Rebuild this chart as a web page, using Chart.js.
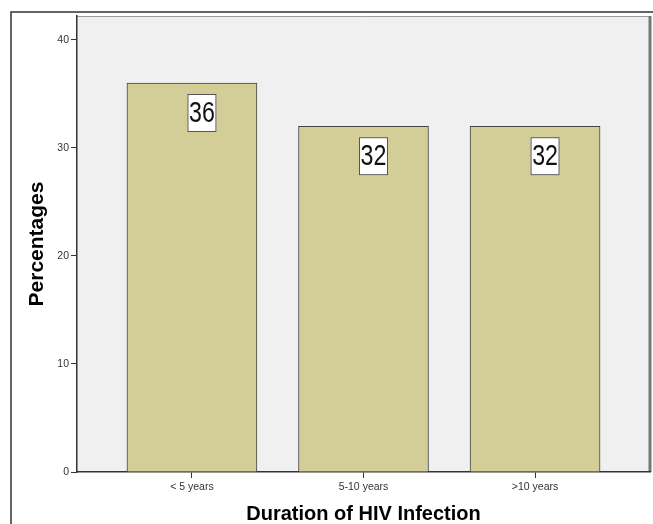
<!DOCTYPE html>
<html>
<head>
<meta charset="utf-8">
<script src="https://cdn.jsdelivr.net/npm/chart.js@4.4.1/dist/chart.umd.min.js"></script>
<style>
  body { margin: 0; background: #fff; }
</style>
</head>
<body>
<canvas id="barChart" width="653" height="524"></canvas>
<script>
const categories = ["< 5 years", "5-10 years", ">10 years"];
const positions = [1, 2, 3];
const percentages = [36, 32, 32];
const yTicks = [0, 10, 20, 30, 40];

// grey panel, frame and borders drawn before the scales
const panelPlugin = {
  id: "panel",
  beforeDraw(chart) {
    const ctx = chart.ctx;
    const a = chart.chartArea;
    ctx.save();
    ctx.fillStyle = "#fff";
    ctx.fillRect(0, 0, chart.width, chart.height);

    // outer frame
    ctx.strokeStyle = "#333";
    ctx.lineWidth = 1.5;
    ctx.strokeRect(11, 12, chart.width + 10, chart.height + 10);

    ctx.fillStyle = "#f0f0f0";
    ctx.fillRect(a.left, a.top, a.right - a.left, a.bottom - a.top);
    ctx.strokeStyle = "#999";
    ctx.lineWidth = 1;
    ctx.beginPath();
    ctx.moveTo(a.left, a.top + 0.5);
    ctx.lineTo(a.right, a.top + 0.5);
    ctx.stroke();
    ctx.strokeStyle = "#777";
    ctx.lineWidth = 3;
    ctx.beginPath();
    ctx.moveTo(a.right, a.top);
    ctx.lineTo(a.right, a.bottom);
    ctx.stroke();
    ctx.restore();
  }
};

// white boxed value labels inside the bars
const boxLabelPlugin = {
  id: "boxLabels",
  afterDatasetsDraw(chart) {
    const ctx = chart.ctx;
    const meta = chart.getDatasetMeta(0);
    meta.data.forEach((bar, i) => {
      const cx = bar.x + 10;
      const cy = bar.y + 30;
      const w = 29, h = 38;
      ctx.save();
      ctx.fillStyle = "#fff";
      ctx.fillRect(cx - w / 2, cy - h / 2, w, h);
      ctx.strokeStyle = "#555";
      ctx.lineWidth = 1;
      ctx.strokeRect(cx - w / 2 + 0.5, cy - h / 2 + 0.5, w - 1, h - 1);
      ctx.translate(cx, cy);
      ctx.scale(0.8, 1);
      ctx.fillStyle = "#111";
      ctx.font = "29px 'Liberation Sans', Arial, sans-serif";
      ctx.textAlign = "center";
      ctx.textBaseline = "middle";
      ctx.fillText(String(percentages[i]), 0, 1);
      ctx.restore();
    });
  }
};

const ctx = document.getElementById("barChart").getContext("2d");
new Chart(ctx, {
  type: "bar",
  data: {
    datasets: [{
      data: positions.map((p, i) => ({ x: p, y: percentages[i] })),
      backgroundColor: "#d3ce98",
      borderColor: "#444",
      borderWidth: 1,
      barThickness: 130
    }]
  },
  options: {
    responsive: false,
    animation: false,
    layout: { padding: { top: 16, right: 3, left: 0, bottom: 0 } },
    plugins: {
      legend: { display: false },
      tooltip: { enabled: false }
    },
    scales: {
      x: {
        type: "linear",
        offset: false,
        min: 0.33,
        max: 3.67,
        afterBuildTicks: scale => { scale.ticks = positions.map(v => ({ value: v })); },
        afterFit: scale => { scale.height = 52; },
        grid: { offset: false, drawOnChartArea: false, tickLength: 6, color: "#333", lineWidth: 1 },
        border: { display: true, color: "#333", width: 1.5 },
        ticks: {
          autoSkip: false,
          maxRotation: 0,
          padding: 3,
          color: "#333",
          font: { family: "'Liberation Sans', Arial, sans-serif", size: 10.5 },
          callback: value => categories[positions.indexOf(value)] || ""
        },
        title: {
          display: true,
          text: "Duration of HIV Infection",
          color: "#000",
          padding: { top: 0, bottom: 0 },
          font: { family: "'Liberation Sans', Arial, sans-serif", size: 20, weight: "bold", lineHeight: 1 }
        }
      },
      y: {
        min: 0,
        max: 42.2,
        afterBuildTicks: scale => { scale.ticks = yTicks.map(v => ({ value: v })); },
        afterFit: scale => { scale.width = 77; },
        grid: { drawOnChartArea: false, tickLength: 6, color: "#333", lineWidth: 1 },
        border: { display: true, color: "#333", width: 1.5 },
        ticks: {
          padding: 2,
          color: "#333",
          font: { family: "'Liberation Sans', Arial, sans-serif", size: 10.5 }
        },
        title: {
          display: true,
          text: "Percentages",
          color: "#000",
          padding: { top: 27, bottom: 0 },
          font: { family: "'Liberation Sans', Arial, sans-serif", size: 21, weight: "bold", lineHeight: 1 }
        }
      }
    }
  },
  plugins: [panelPlugin, boxLabelPlugin]
});
</script>
</body>
</html>
